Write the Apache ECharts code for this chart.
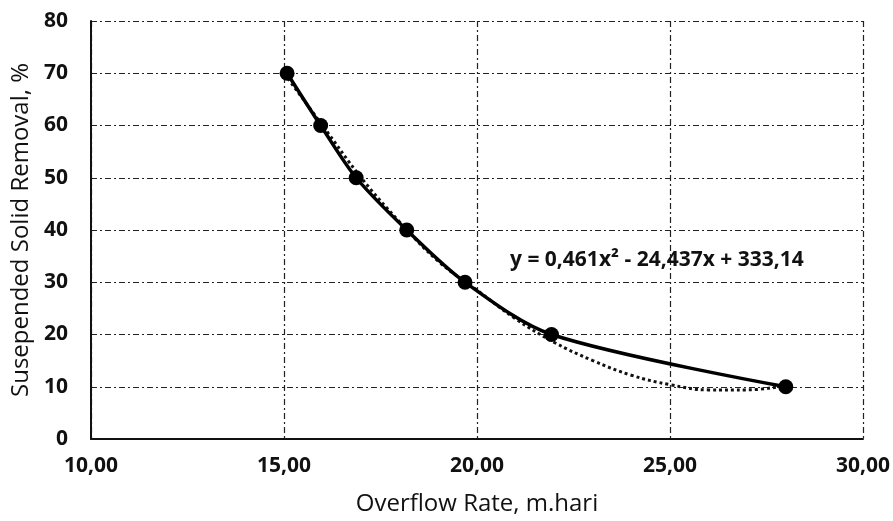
<!DOCTYPE html>
<html>
<head>
<meta charset="utf-8">
<script src="https://cdn.jsdelivr.net/npm/echarts@6/dist/echarts.min.js"></script>
<style>
    html, body { margin: 0; padding: 0; background: #fff; }
    #main { width: 893px; height: 521px; }
</style>
</head>
<body>
<div id="main"></div>
<script>
    // measured points
    var overflowRate = [15.08, 15.95, 16.87, 18.18, 19.69, 21.93, 28.0];
    var removal = [70, 60, 50, 40, 30, 20, 10];

    // polynomial trendline
    var trendX = [15.1, 16, 17, 18, 19, 20, 21, 22, 23, 24, 25, 26, 27, 28];
    var trendY = [69, 60, 50, 41.5, 34, 28.5, 23, 18.5, 15, 12.2, 10.4, 9.4, 9.4, 10.2];

    var equationText = 'y = 0,461x² - 24,437x + 333,14';
    var xTitle = 'Overflow Rate, m.hari';
    var yTitle = 'Susepended Solid Removal, %';

    var chartDom = document.getElementById('main');
    var myChart = echarts.init(chartDom);

    var font = '"Open Sans", "Liberation Sans", sans-serif';

    var mainData = overflowRate.map(function (x, i) { return [x, removal[i]]; });
    var trendData = trendX.map(function (x, i) { return [x, trendY[i]]; });

    var option = {
        animation: false,
        backgroundColor: '#fff',
        grid: { left: 91, right: 30, top: 21, bottom: 81 },
        xAxis: {
            type: 'value',
            min: 10, max: 30, interval: 5,
            name: xTitle,
            nameLocation: 'middle',
            nameGap: 53,
            nameTextStyle: { fontFamily: font, fontSize: 24, color: '#111' },
            axisLine: { show: true, lineStyle: { color: '#111', width: 2 } },
            axisTick: { show: false },
            axisLabel: {
                fontFamily: font, fontSize: 21, fontWeight: 'bold', color: '#111', margin: 17,
                formatter: function (v) { return v.toFixed(2).replace('.', ','); }
            },
            splitLine: { show: true, lineStyle: { color: '#222', width: 1.2, type: [6, 3, 2, 3] } }
        },
        yAxis: {
            type: 'value',
            min: 0, max: 80, interval: 10,
            name: yTitle,
            nameLocation: 'middle',
            nameGap: 56,
            nameTextStyle: { fontFamily: font, fontSize: 24, color: '#111' },
            axisLine: { show: true, lineStyle: { color: '#111', width: 2 } },
            axisTick: { show: false },
            axisLabel: { fontFamily: font, fontSize: 21, fontWeight: 'bold', color: '#111', margin: 23 },
            splitLine: { show: true, lineStyle: { color: '#222', width: 1.2, type: [6, 3, 2, 3] } }
        },
        series: [
            {
                name: 'trend',
                type: 'line',
                data: trendData,
                smooth: 0.4,
                showSymbol: false,
                lineStyle: { color: '#111', width: 3, type: [3, 3] },
                z: 2
            },
            {
                name: 'removal',
                type: 'line',
                data: mainData,
                smooth: 0.3,
                symbol: 'circle',
                symbolSize: 15,
                itemStyle: { color: '#000' },
                lineStyle: { color: '#000', width: 3.5 },
                z: 3
            }
        ],
        graphic: [
            {
                type: 'text',
                left: 510,
                top: 250,
                style: {
                    text: equationText,
                    fontFamily: font,
                    fontSize: 21,
                    fontWeight: 'bold',
                    fill: '#111'
                },
                z: 10
            }
        ]
    };

    myChart.setOption(option);
</script>
</body>
</html>
